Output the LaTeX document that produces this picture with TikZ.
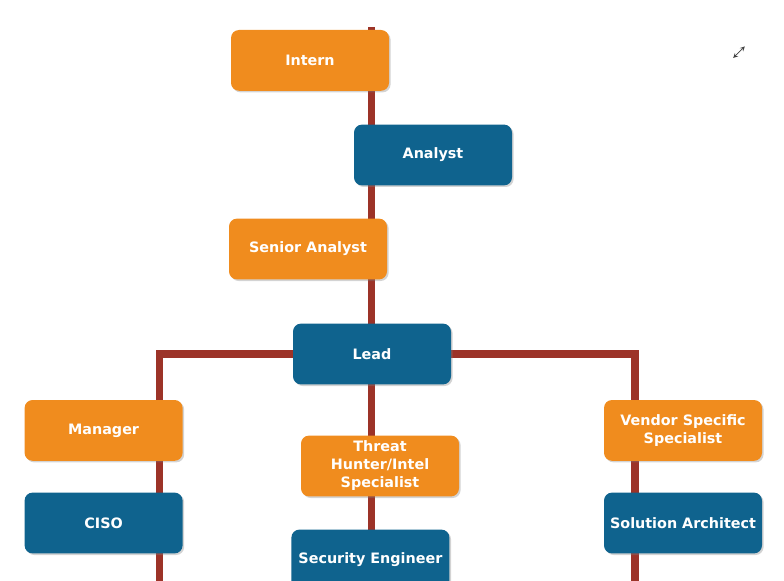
\documentclass[tikz,border=0pt]{standalone}
\usepackage{fontspec}
\setmainfont{DejaVu Sans}
\usepackage{tikz}
\usetikzlibrary{shadows}

\definecolor{rolorange}{RGB}{240,140,30}
\definecolor{rolblue}{RGB}{15,99,142}
\definecolor{pathred}{RGB}{156,51,40}

\pgfdeclarelayer{background}
\pgfsetlayers{background,main}

\tikzset{
  role/.style={rounded corners=0.2cm, minimum width=3.95cm, minimum height=1.52cm,
    text=white, font=\bfseries\fontsize{10.2}{12.8}\selectfont, align=center,
    drop shadow={shadow xshift=0.04cm, shadow yshift=-0.04cm, opacity=0.35}},
  orole/.style={role, fill=rolorange},
  brole/.style={role, fill=rolblue},
  track/.style={draw=pathred, line width=0.19cm}
}

\begin{document}
\begin{tikzpicture}
\useasboundingbox (0,0) rectangle (19.6,-14.525);

%Roles
\node [orole] (intern) at (7.75,-1.51){Intern};
\node [brole] (analyst) at (10.825,-3.875){Analyst};
\node [orole] (senior) at (7.7,-6.225){Senior Analyst};
\node [brole] (lead) at (9.3,-8.85){Lead};

\node [orole] (manager) at (2.59,-10.76){Manager};
\node [brole] (ciso) at (2.59,-13.075){CISO};

\node [orole] (threat) at (9.5,-11.65){Threat\\Hunter/Intel\\Specialist};
\node [brole] (seceng) at (9.26,-14.0){Security Engineer};

\node [orole] (vendor) at (17.075,-10.76){Vendor Specific\\Specialist};
\node [brole] (solarch) at (17.075,-13.075){Solution Architect};

%Track ends
\coordinate (top) at (9.29,-0.675); \coordinate (bottom) at (9.29,-14.6);
\coordinate (leftend) at (3.99,-14.6); \coordinate (rightend) at (15.875,-14.6);

\begin{pgfonlayer}{background}
\draw [track] (top)--(bottom);
\draw [track] (leftend) |- (lead); \draw [track] (rightend) |- (lead);
\end{pgfonlayer}

%expand icon
\draw [black!75, line width=0.5pt, <->, >=stealth] (18.33,-1.45)--(18.62,-1.16);

\end{tikzpicture}
\end{document}
